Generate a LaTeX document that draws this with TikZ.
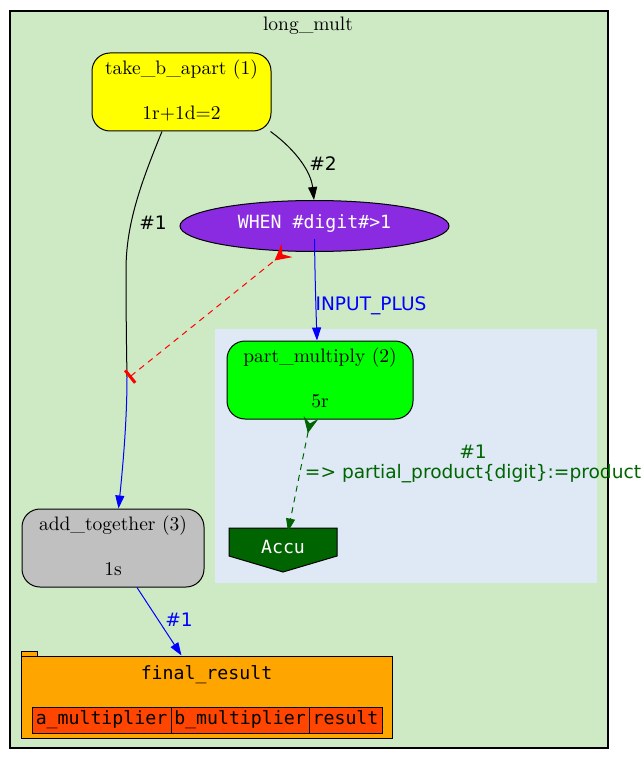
\documentclass[tikz,border=0pt]{standalone}
\usepackage{fontspec}
\newfontfamily\lmten{lmroman10-regular}[Extension=.otf]
\newfontfamily\dvsans{DejaVu Sans}
\newfontfamily\dvmono{DejaVu Sans Mono}
\usetikzlibrary{shapes.geometric,arrows.meta,calc}
\definecolor{outerbg}{HTML}{CEEAC5}
\definecolor{innerbg}{HTML}{DEE9F5}
\definecolor{dgreen}{HTML}{006400}
\definecolor{violetfill}{HTML}{8A2BE2}
\definecolor{orangefill}{HTML}{FFA500}
\definecolor{orangered}{HTML}{FF4500}
\definecolor{greyfill}{HTML}{C0C0C0}
\definecolor{yellowfill}{HTML}{FFFF00}
\definecolor{greenfill}{HTML}{00FF00}
\definecolor{pureblue}{HTML}{0000FF}
\definecolor{purered}{HTML}{FF0000}
\newcommand{\nudgeup}{\rule[-4pt]{0pt}{4pt}}
\tikzset{
  x=1pt,y=-1pt,
  serifsz/.style={font=\lmten\fontsize{19.5}{21}\selectfont},
  monosz/.style={font=\dvmono\fontsize{18.2}{20}\selectfont},
  sanssz/.style={font=\dvsans\fontsize{18.6}{22}\selectfont},
  taskbox/.style={draw=black,line width=1pt,rounded corners=18pt,inner sep=0pt,align=center,serifsz},
  cell/.style={draw=black,line width=1pt,fill=orangered,inner sep=0pt,minimum height=26pt,text height=12pt,text depth=4pt,monosz},
  edgeline/.style={line width=1pt},
  headnormal/.style={-{Triangle[length=13pt,width=9pt]}},
  lbl/.style={inner sep=0pt,sanssz},
}
\begin{document}
\begin{tikzpicture}
\useasboundingbox (0,0) rectangle (641,759);
% clusters
\draw[line width=2pt,fill=outerbg] (10,11) rectangle (608,748);
\fill[innerbg] (215,329) rectangle (597,583);
\node[serifsz,inner sep=0pt] (title) at (308,26) {long\_mult};
% nodes
\node[taskbox,fill=yellowfill,minimum width=179pt,minimum height=78pt] (tba) at (181.5,92)
  {take\_b\_apart (1)\\[24pt]1r+1d=2\nudgeup};
\node[ellipse,draw=black,line width=1pt,fill=violetfill,minimum width=269pt,minimum height=51pt,inner sep=0pt,text=white,monosz,text height=8pt,text depth=8pt] (when) at (314.5,226) {\raisebox{-2pt}[0pt][0pt]{WHEN \#digit\#>1}};
\node[taskbox,fill=greenfill,minimum width=186pt,minimum height=78pt] (pm) at (320,380)
  {part\_multiply (2)\\[24pt]5r\nudgeup};
\node[taskbox,fill=greyfill,minimum width=182pt,minimum height=78pt] (add) at (113,548)
  {add\_together (3)\\[24pt]1s\nudgeup};
\draw[line width=1pt,fill=dgreen] (229,528) -- (337,528) -- (337,556) -- (283,572) -- (229,556) -- cycle;
\node[inner sep=0pt,text=white,monosz,minimum width=108pt] (accu) at (283,546.5) {Accu};
\draw[line width=1pt,fill=orangefill] (21,656) -- (21,651) -- (37,651) -- (37,656);
\node[draw=black,line width=1pt,fill=orangefill,minimum width=371pt,minimum height=82pt,inner sep=0pt] (final) at (206.5,697) {};
\node[inner sep=0pt,monosz] (ftitle) at (206.5,674.5) {final\_result};
\node[cell,minimum width=139pt] (c1) at (101.5,720) {a\_multiplier};
\node[cell,minimum width=138pt] (c2) at (240,720) {b\_multiplier};
\node[cell,minimum width=73pt] (c3) at (345.5,720) {result};
\coordinate (joint) at (127,377);
% connectors
\draw[edgeline] ($(tba.south)+(-19.5,0)$) .. controls (140,185) and (126,225) .. (126,270) .. controls (126,310) and (126.5,350) .. (joint);
\draw[edgeline,pureblue,headnormal] (joint) .. controls (127,420) and (123,465) .. ($(add.north)+(5.5,0)$);
\draw[edgeline,headnormal] ($(tba.south)+(89,0)$) .. controls (296,150) and (311,172) .. ($(when.north)+(-0.5,0)$);
\draw[edgeline,pureblue,headnormal] ($(when.center)+(0,13)$) .. controls (315,280) and (316,310) .. ($(pm.north)+(-3,0)$);
\draw[edgeline,purered,dash pattern=on 6pt off 5pt,{Bar[width=16pt,line width=3pt]}-{Stealth[reversed,length=16pt,width=17pt,inset=6pt]}] ($(joint)+(2,0.5)$) -- ($(when.south)+(-27.5,-1.5)$);
\draw[edgeline,dgreen,dash pattern=on 6pt off 5pt,{Stealth[reversed,length=16pt,width=15pt,inset=6pt]}-{Triangle[length=13pt,width=9pt]}] ($(pm.south)+(-9,-2)$) -- ($(accu.north)+(5,-8)$);
\draw[edgeline,pureblue,headnormal] ($(add.south)+(24,0)$) -- ($(final.north)+(-25,0)$);
% labels
\node[lbl] (l2) at (323,164) {\#2};
\node[lbl] (l1) at (153,223) {\#1};
\node[lbl,text=pureblue] (lip) at (371,305.5) {INPUT\_PLUS};
\node[lbl,text=dgreen] (lg1) at (473,452) {\#1};
\node[lbl,text=dgreen] (lg2) at (473,473.5) {=> partial\_product\{digit\}:=product};
\node[lbl,text=pureblue] (lb1) at (179,620) {\#1};
\end{tikzpicture}
\end{document}
